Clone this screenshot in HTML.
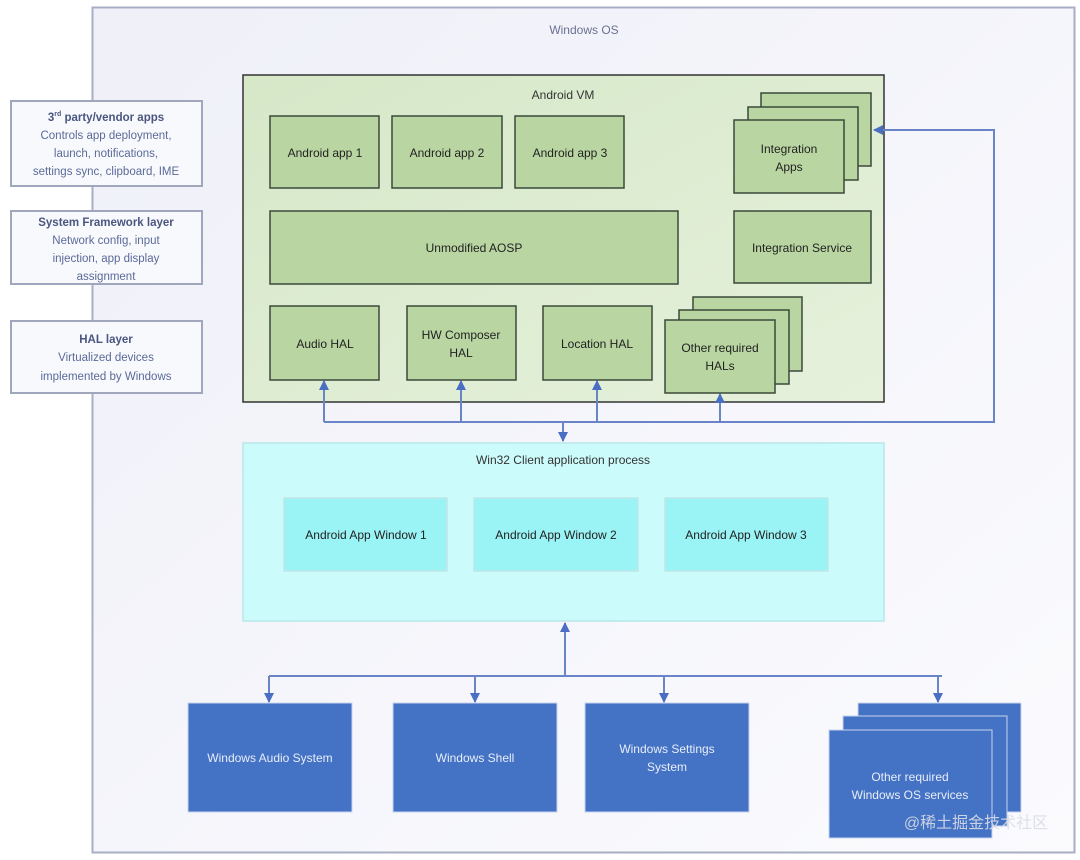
<!DOCTYPE html>
<html><head><meta charset="utf-8"><style>
body{margin:0;width:1080px;height:855px;overflow:hidden;background:#fff;font-family:"Liberation Sans","Noto Sans CJK SC",sans-serif}
</style></head><body>
<svg width="1080" height="855" viewBox="0 0 1080 855" xmlns="http://www.w3.org/2000/svg" font-family="Liberation Sans, Noto Sans CJK SC, sans-serif">
<defs>
<linearGradient id="bg" x1="0" y1="0" x2="1" y2="1"><stop offset="0" stop-color="#eff0f8"/><stop offset="1" stop-color="#fbfbfe"/></linearGradient>
<linearGradient id="vm" x1="0" y1="0" x2="1" y2="1"><stop offset="0" stop-color="#d6e8c8"/><stop offset="1" stop-color="#e6f1dc"/></linearGradient>
<marker id="ah" markerWidth="10" markerHeight="10" refX="9" refY="5" orient="auto" markerUnits="userSpaceOnUse"><path d="M0,0 L10,5 L0,10 z" fill="#4a6fc2"/></marker>
</defs>
<rect x="0" y="0" width="1080" height="855" fill="#fff"/>
<rect x="92.5" y="7.5" width="982" height="845" fill="url(#bg)" stroke="#a8aec4" stroke-width="2"/>
<text x="584" y="34" font-size="12" fill="#6a7090" text-anchor="middle">Windows OS</text>

<g fill="#f8f9fd" stroke="#a0a6bc" stroke-width="2">
<rect x="11" y="101" width="191" height="85"/>
<rect x="11" y="211" width="191" height="73"/>
<rect x="11" y="321" width="191" height="72"/>
</g>
<g font-size="11.5" text-anchor="middle" fill="#5b6a98">
<text x="106" y="121" font-weight="bold" fill="#4a5680">3<tspan font-size="7" dy="-5">rd</tspan><tspan dy="5"> party/vendor apps</tspan></text>
<text x="106" y="139">Controls app deployment,</text>
<text x="106" y="157">launch, notifications,</text>
<text x="106" y="175">settings sync, clipboard, IME</text>
<text x="106" y="226" font-weight="bold" fill="#4a5680">System Framework layer</text>
<text x="106" y="244">Network config, input</text>
<text x="106" y="262">injection, app display</text>
<text x="106" y="280">assignment</text>
<text x="106" y="343" font-weight="bold" fill="#4a5680">HAL layer</text>
<text x="106" y="361">Virtualized devices</text>
<text x="106" y="380">implemented by Windows</text>
</g>

<rect x="243" y="75" width="641" height="327" fill="url(#vm)" stroke="#333" stroke-width="1.5"/>
<text x="563" y="99" font-size="12" fill="#333" text-anchor="middle">Android VM</text>
<g fill="#b9d6a2" stroke="#3a4a3a" stroke-width="1.5">
<rect x="270" y="116" width="109" height="72"/>
<rect x="392" y="116" width="110" height="72"/>
<rect x="515" y="116" width="109" height="72"/>
<rect x="761" y="93" width="110" height="73"/>
<rect x="748" y="107" width="110" height="73"/>
<rect x="734" y="120" width="110" height="73"/>
<rect x="270" y="211" width="408" height="73"/>
<rect x="734" y="211" width="137" height="72"/>
<rect x="270" y="306" width="109" height="74"/>
<rect x="407" y="306" width="109" height="74"/>
<rect x="543" y="306" width="109" height="74"/>
<rect x="693" y="297" width="109" height="74"/>
<rect x="679" y="310" width="110" height="74"/>
<rect x="665" y="320" width="110" height="73"/>
</g>
<g font-size="12" fill="#222" text-anchor="middle">
<text x="325" y="157">Android app 1</text>
<text x="447" y="157">Android app 2</text>
<text x="570" y="157">Android app 3</text>
<text x="789" y="153">Integration</text>
<text x="789" y="171">Apps</text>
<text x="474" y="252">Unmodified AOSP</text>
<text x="802" y="252">Integration Service</text>
<text x="325" y="348">Audio HAL</text>
<text x="461" y="339">HW Composer</text>
<text x="461" y="357">HAL</text>
<text x="597" y="348">Location HAL</text>
<text x="720" y="352">Other required</text>
<text x="720" y="370">HALs</text>
</g>

<g stroke="#6a84c8" stroke-width="2" fill="none">
<polyline points="324,422 994,422 994,130 874,130" marker-end="url(#ah)"/>
<line x1="324" y1="422" x2="324" y2="381" marker-end="url(#ah)"/>
<line x1="461" y1="422" x2="461" y2="381" marker-end="url(#ah)"/>
<line x1="597" y1="422" x2="597" y2="381" marker-end="url(#ah)"/>
<line x1="720" y1="422" x2="720" y2="394" marker-end="url(#ah)"/>
<line x1="563" y1="422" x2="563" y2="441" marker-end="url(#ah)"/>
</g>

<rect x="243" y="443" width="641" height="178" fill="#ccfbfb" stroke="#b8e6ea" stroke-width="1.5"/>
<text x="563" y="464" font-size="12" fill="#333" text-anchor="middle">Win32 Client application process</text>
<g fill="#9af3f4" stroke="#bfe6e8" stroke-width="1.5">
<rect x="284" y="498" width="163" height="73"/>
<rect x="474" y="498" width="164" height="73"/>
<rect x="665" y="498" width="163" height="73"/>
</g>
<g font-size="12" fill="#222" text-anchor="middle">
<text x="366" y="539">Android App Window 1</text>
<text x="556" y="539">Android App Window 2</text>
<text x="746" y="539">Android App Window 3</text>
</g>

<g stroke="#6a84c8" stroke-width="2" fill="none">
<line x1="565" y1="676" x2="565" y2="623" marker-end="url(#ah)"/>
<line x1="269" y1="676" x2="942" y2="676"/>
<line x1="269" y1="676" x2="269" y2="702" marker-end="url(#ah)"/>
<line x1="475" y1="676" x2="475" y2="702" marker-end="url(#ah)"/>
<line x1="664" y1="676" x2="664" y2="702" marker-end="url(#ah)"/>
<line x1="938" y1="676" x2="938" y2="702" marker-end="url(#ah)"/>
</g>

<g fill="#4472c4" stroke="#c8d4ee" stroke-width="1">
<rect x="188" y="703" width="164" height="109"/>
<rect x="393" y="703" width="164" height="109"/>
<rect x="585" y="703" width="164" height="109"/>
<rect x="858" y="703" width="163" height="109"/>
<rect x="843" y="716" width="164" height="110"/>
<rect x="829" y="730" width="163" height="108"/>
</g>
<g font-size="12" fill="#e8eefa" text-anchor="middle">
<text x="270" y="762">Windows Audio System</text>
<text x="475" y="762">Windows Shell</text>
<text x="667" y="753">Windows Settings</text>
<text x="667" y="771">System</text>
<text x="910" y="781">Other required</text>
<text x="910" y="799">Windows OS services</text>
</g>
<text x="976" y="828" font-size="16" fill="#d8dbe6" fill-opacity="0.9" text-anchor="middle">@稀土掘金技术社区</text>
</svg>
</body></html>
